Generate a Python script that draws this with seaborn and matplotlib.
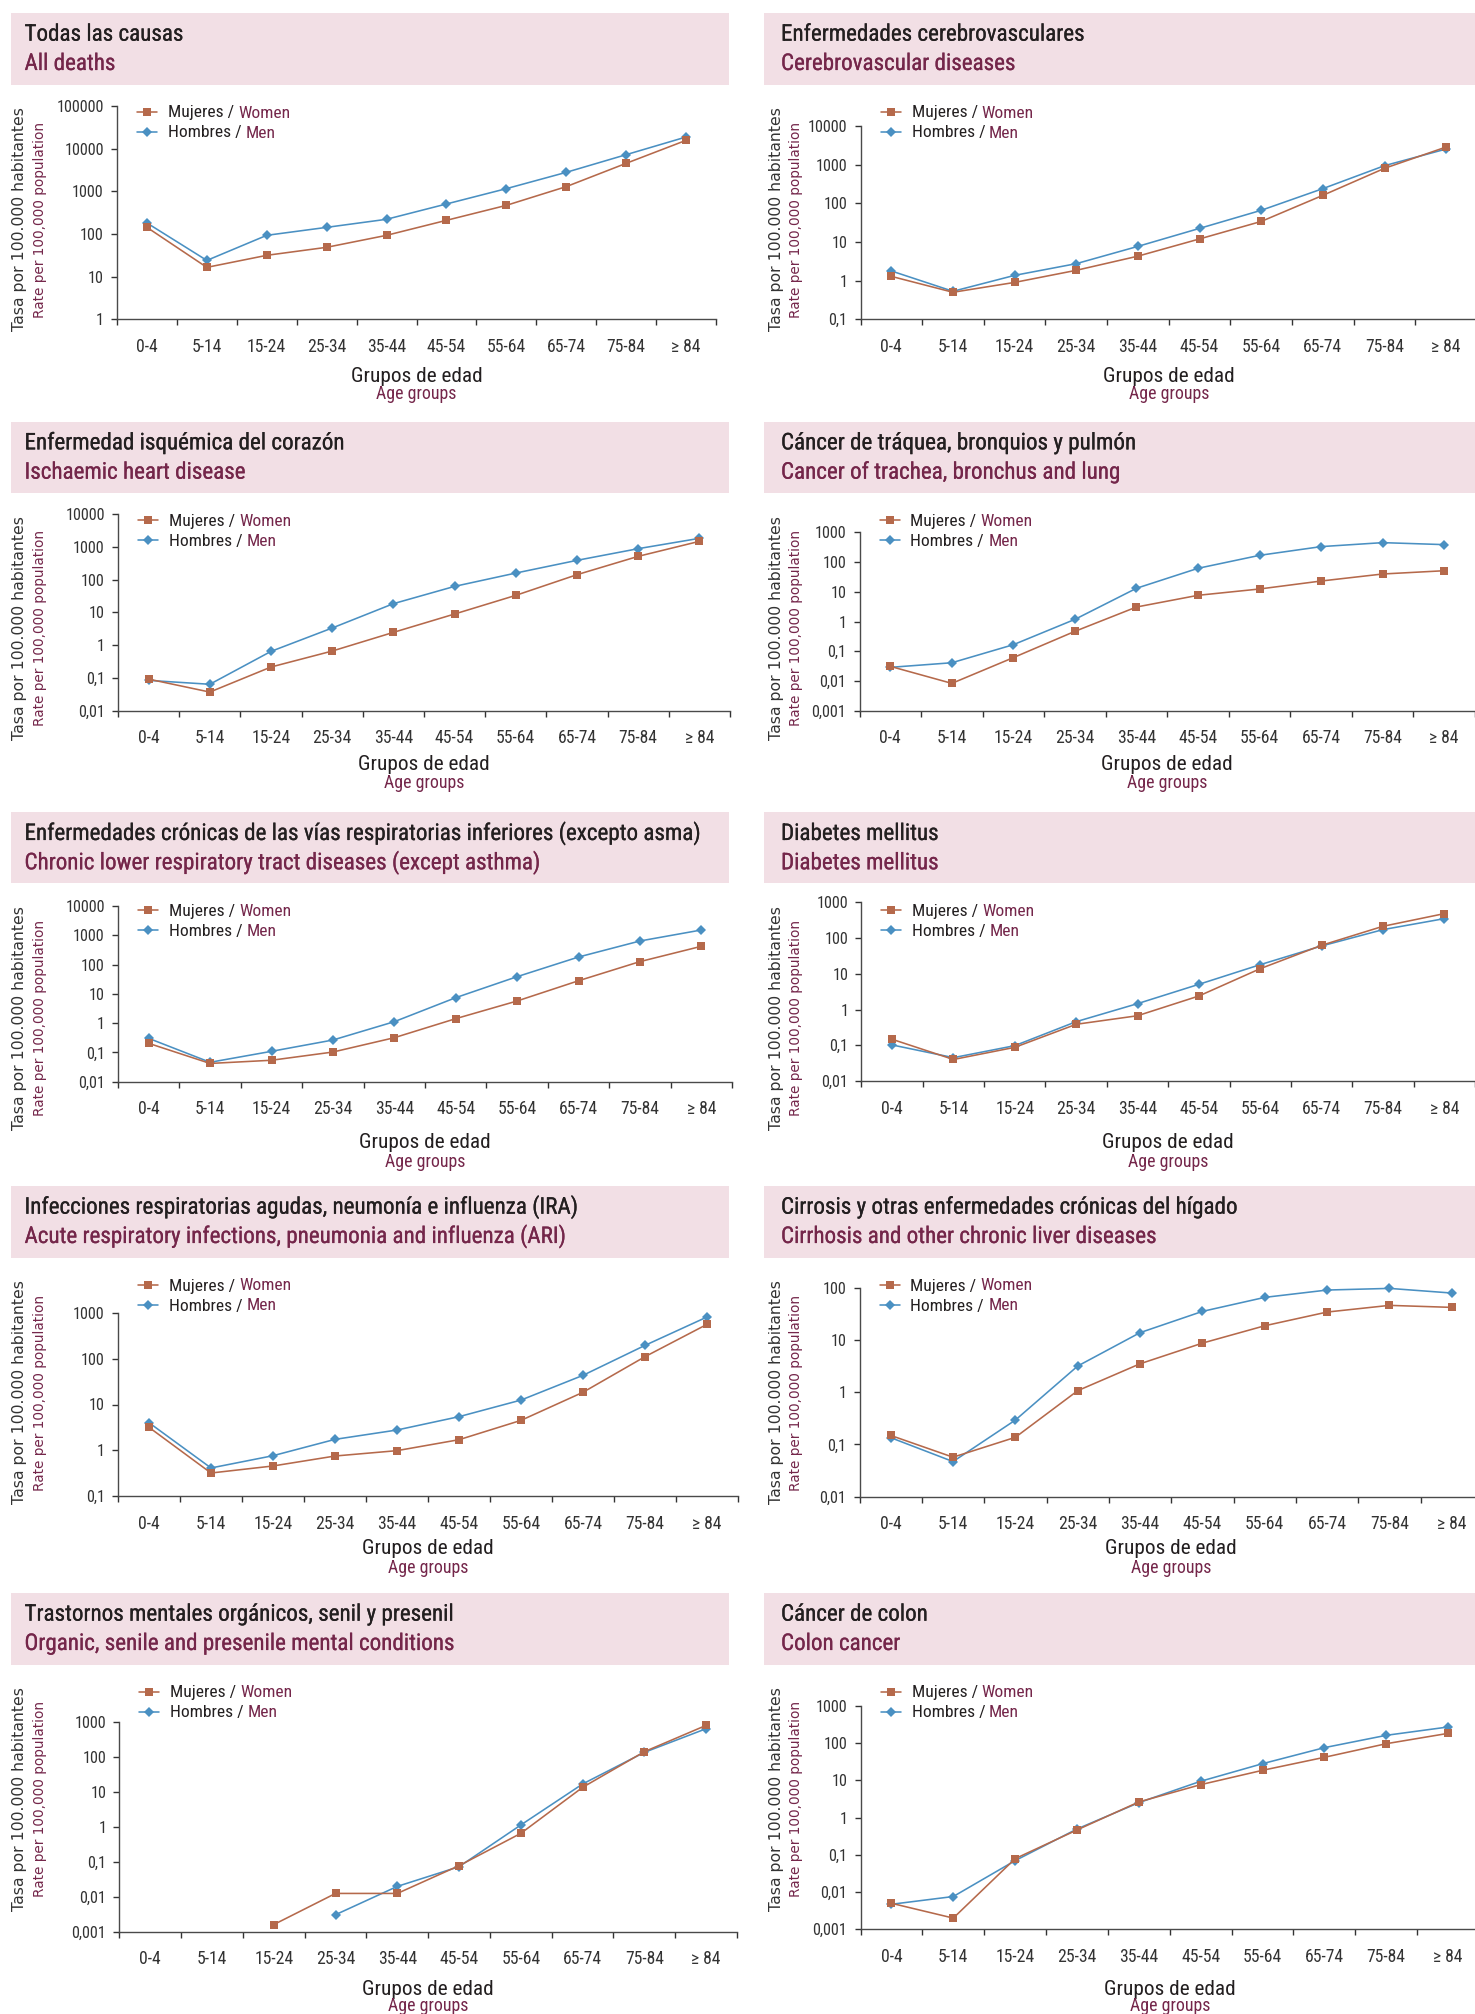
import matplotlib
matplotlib.use("Agg")
import numpy as np
import pandas as pd
import matplotlib.pyplot as plt
import seaborn as sns
from matplotlib import font_manager as fm
from matplotlib import patheffects as pe
from matplotlib.lines import Line2D
from matplotlib.patches import Rectangle
from matplotlib.ticker import FixedLocator, FixedFormatter, NullLocator

sns.set_theme(style="ticks")
plt.rcParams['font.family'] = ['DejaVu Sans']

NaN = np.nan

# ---------------- data ----------------
age_groups = ["0-4", "5-14", "15-24", "25-34", "35-44", "45-54", "55-64", "65-74", "75-84", "≥ 84"]
ytick_values = [0.001, 0.01, 0.1, 1, 10, 100, 1000, 10000, 100000]
ytick_labels = ["0,001", "0,01", "0,1", "1", "10", "100", "1000", "10000", "100000"]

titles_es = [
    "Todas las causas",
    "Enfermedades cerebrovasculares",
    "Enfermedad isquémica del corazón",
    "Cáncer de tráquea, bronquios y pulmón",
    "Enfermedades crónicas de las vías respiratorias inferiores (excepto asma)",
    "Diabetes mellitus",
    "Infecciones respiratorias agudas, neumonía e influenza (IRA)",
    "Cirrosis y otras enfermedades crónicas del hígado",
    "Trastornos mentales orgánicos, senil y presenil",
    "Cáncer de colon",
]
titles_en = [
    "All deaths",
    "Cerebrovascular diseases",
    "Ischaemic heart disease",
    "Cancer of trachea, bronchus and lung",
    "Chronic lower respiratory tract diseases (except asthma)",
    "Diabetes mellitus",
    "Acute respiratory infections, pneumonia and influenza (ARI)",
    "Cirrhosis and other chronic liver diseases",
    "Organic, senile and presenile mental conditions",
    "Colon cancer",
]

women_all = [143, 16.5, 31.6, 48.7, 93, 209, 469, 1288, 4530, 15670]
men_all = [181, 24, 93, 143, 221, 505, 1155, 2787, 7230, 18770]

women_cerebro = [1.29, 0.50, 0.90, 1.85, 4.3, 12, 34, 161, 804, 2864]
men_cerebro = [1.78, 0.53, 1.37, 2.75, 7.7, 22.5, 66, 240, 942, 2540]

women_ischaemic = [0.092, 0.037, 0.215, 0.66, 2.45, 8.9, 33, 141, 511, 1466]
men_ischaemic = [0.084, 0.064, 0.645, 3.33, 18.4, 62, 158, 386, 876, 1810]

women_lung = [0.031, 0.0083, 0.061, 0.467, 3.07, 7.6, 12.4, 23, 39.6, 51]
men_lung = [0.0287, 0.041, 0.166, 1.18, 13.1, 61.5, 168, 330, 449, 385]

women_copd = [0.204, 0.042, 0.054, 0.103, 0.318, 1.42, 5.7, 28, 126, 420]
men_copd = [0.302, 0.046, 0.109, 0.265, 1.12, 7.4, 38.6, 181, 638, 1515]

women_diabetes = [0.147, 0.040, 0.0875, 0.386, 0.67, 2.39, 13.9, 62.7, 213, 482]
men_diabetes = [0.102, 0.045, 0.0975, 0.457, 1.46, 5.07, 18, 60, 172, 349]

women_ari = [3.17, 0.318, 0.453, 0.748, 0.98, 1.70, 4.5, 18.5, 111, 565]
men_ari = [4.0, 0.41, 0.76, 1.73, 2.77, 5.42, 12.5, 43.4, 196, 818]

women_cirrhosis = [0.149, 0.057, 0.137, 1.07, 3.5, 8.7, 18.7, 34.2, 45.9, 42]
men_cirrhosis = [0.135, 0.047, 0.293, 3.17, 13.8, 35.2, 65.3, 90.2, 97, 79]

women_mental = [NaN, NaN, 0.0016, 0.0124, 0.0124, 0.077, 0.646, 13.3, 139, 786]
men_mental = [NaN, NaN, NaN, 0.00306, 0.0197, 0.072, 1.12, 16.6, 133, 631]

women_colon = [0.0050, 0.0020, 0.079, 0.467, 2.64, 7.7, 18.7, 41.8, 97, 184]
men_colon = [0.0047, 0.0076, 0.070, 0.495, 2.53, 9.5, 28.2, 76, 163, 273]

women_series = [women_all, women_cerebro, women_ischaemic, women_lung, women_copd,
                women_diabetes, women_ari, women_cirrhosis, women_mental, women_colon]
men_series = [men_all, men_cerebro, men_ischaemic, men_lung, men_copd,
              men_diabetes, men_ari, men_cirrhosis, men_mental, men_colon]

legend_es = ["Mujeres /", "Hombres /"]
legend_en = ["Women", "Men"]
xlabel_es = "Grupos de edad"
xlabel_en = "Age groups"
ylabel_es = "Tasa por 100.000 habitantes"
ylabel_en = "Rate per 100,000 population"

# ---------------- layout / style ----------------
W, H, DPI = 1475, 2014, 100
WOMEN_C = "#B5694B"
MEN_C = "#4A90C2"
MAROON = "#74264A"
HEADER_BG = "#F2DFE5"
DARK = "#231F20"
AXC = "#4a4a4a"

yranges = [(0, 5), (-1, 4), (-2, 4), (-3, 3), (-2, 4), (-2, 3), (-1, 3), (-2, 2), (-3, 3), (-3, 3)]
boxes = [
    (117, 716, 106, 319.3), (860.5, 1477, 126, 319.3),
    (118, 730, 514, 710.7), (859.5, 1475, 532.3, 710.7),
    (118, 732, 906, 1081.7), (861.4, 1475, 902.3, 1081),
    (118, 738, 1313, 1496), (859.5, 1483, 1287.7, 1496.7),
    (119.4, 737, 1721.7, 1931.7), (860.5, 1479, 1706, 1929.3),
]
row_headers = [(13, 85), (421.7, 493.3), (812.3, 883.3), (1186, 1258), (1593, 1664.7)]
row_label_cy = [219.5, 628, 1018, 1392.5, 1799]
row_grupos_base = [382.3, 770, 1147.7, 1554, 1995]
row_age_base = [399.3, 788.3, 1166.7, 1572.7, 2011]
col_header_x = [(11, 729), (764, 1475)]
col_title_x = [24.5, 781]
col_tasa_x = [20, 777]
col_rate_x = [40, 796]


# ---------------- condensed font selection ----------------
def find_condensed():
    for n in ['Roboto Condensed', 'Liberation Sans Narrow', 'DejaVu Sans Condensed',
              'Open Sans Condensed', 'Noto Sans Condensed', 'Arial Narrow']:
        try:
            return fm.findfont(fm.FontProperties(family=n), fallback_to_default=False)
        except Exception:
            pass
    pref = ['Roboto', 'DejaVu Sans', 'Liberation Sans', 'Noto Sans', 'Open Sans', 'Lato', 'Inter']
    best = None
    for fe in fm.fontManager.ttflist:
        fn = fe.fname
        cond = ('ondensed' in fn) or ('Narrow' in fn) or (fe.stretch in ('condensed', 'semi-condensed'))
        if not cond or fe.style != 'normal':
            continue
        if 'Bold' in fn or 'Light' in fn or 'Thin' in fn or 'Black' in fn:
            continue
        rank = pref.index(fe.name) if fe.name in pref else len(pref)
        if best is None or rank < best[0]:
            best = (rank, fn)
    return best[1] if best else None


COND_PATH = find_condensed()


def cf(size):
    if COND_PATH:
        return fm.FontProperties(fname=COND_PATH, size=size)
    return fm.FontProperties(family=['Roboto', 'DejaVu Sans'], size=size)


def has_glyph(ch):
    if not COND_PATH:
        return True
    try:
        from matplotlib.ft2font import FT2Font
        return FT2Font(COND_PATH).get_char_index(ord(ch)) != 0
    except Exception:
        return True


GE_OK = has_glyph("≥")


def fx(x):
    return x / W


def fy(y):
    return 1 - y / H


fig = plt.figure(figsize=(W / DPI, H / DPI), dpi=DPI)
fig.patch.set_facecolor("white")
renderer = fig.canvas.get_renderer()


def fit_size(text, target_px, max_pt):
    w, h, d = renderer.get_text_width_height_descent(text, cf(10), ismath=False)
    return min(max_pt, 10.0 * target_px / w)


S_TITLE = fit_size("Enfermedades crónicas de las vías respiratorias inferiores (excepto asma)", 690, 16.6)
S_XT = fit_size("15-24", 39, 12.9)
S_YT = fit_size("100000", 47, 12.0)
S_LEG = fit_size("Mujeres / Women", 126, 12.6)
S_GRU = fit_size("Grupos de edad", 131, 15.3)
S_AGE = fit_size("Age groups", 80, 13.2)
TITLE_FX = [pe.withStroke(linewidth=0.15, foreground=DARK)]
TITLE_FX2 = [pe.withStroke(linewidth=0.15, foreground=MAROON)]

legend_pairs = []
for i in range(10):
    row, col = divmod(i, 2)
    x0, x1, yt, yb = boxes[i]
    ht, hb = row_headers[row]
    hx0, hx1 = col_header_x[col]

    # header band
    fig.add_artist(Rectangle((fx(hx0), fy(hb)), fx(hx1) - fx(hx0), fy(ht) - fy(hb),
                             transform=fig.transFigure, facecolor=HEADER_BG,
                             edgecolor="none", zorder=0))
    fig.text(fx(col_title_x[col]), fy(ht + 27.7), titles_es[i], fontproperties=cf(S_TITLE),
             color=DARK, va="baseline", ha="left", path_effects=TITLE_FX)
    fig.text(fx(col_title_x[col]), fy(ht + 57), titles_en[i], fontproperties=cf(S_TITLE),
             color=MAROON, va="baseline", ha="left", path_effects=TITLE_FX2)

    # axes and lines
    ax = fig.add_axes([fx(x0), fy(yb), fx(x1) - fx(x0), fy(yt) - fy(yb)])
    ax.patch.set_alpha(0)
    ax.set_yscale("log")
    pos = list(range(len(age_groups)))
    for vals, color, marker, ms in [(men_series[i], MEN_C, "D", 5.0),
                                    (women_series[i], WOMEN_C, "s", 5.6)]:
        d = pd.DataFrame({"pos": pos, "rate": vals}).dropna()
        sns.lineplot(data=d, x="pos", y="rate", color=color, marker=marker,
                     markersize=ms, markeredgewidth=0, linewidth=1.15,
                     estimator=None, errorbar=None, legend=False, ax=ax,
                     clip_on=False)
    lo, hi = yranges[i]
    ax.set_ylim(10.0 ** lo, 10.0 ** hi)
    ax.set_xlim(-0.5, len(age_groups) - 0.5)
    ax.set_xlabel("")
    ax.set_ylabel("")

    yv = [v for v in ytick_values if 10.0 ** lo * 0.999 <= v <= 10.0 ** hi * 1.001]
    yl = [ytick_labels[ytick_values.index(v)] for v in yv]
    ax.yaxis.set_major_locator(FixedLocator(yv))
    ax.yaxis.set_major_formatter(FixedFormatter(yl))
    ax.yaxis.set_minor_locator(NullLocator())

    ax.set_xticks(pos)
    ax.set_xticklabels(age_groups)
    ax.set_xticks(np.arange(-0.5, len(age_groups), 1.0), minor=True)
    ax.tick_params(axis="x", which="major", length=0, pad=13.5, labelcolor="#333333")
    ax.tick_params(axis="x", which="minor", length=4.5, width=1.0, direction="out",
                   color="#333333")
    ax.tick_params(axis="y", which="major", length=4, width=1.0, direction="out",
                   pad=5.5, labelcolor="#333333", color="#333333")
    for lab in ax.get_xticklabels():
        if "≥" in lab.get_text() and not GE_OK:
            lab.set_fontproperties(fm.FontProperties(family=['DejaVu Sans'], size=S_XT * 0.85))
        else:
            lab.set_fontproperties(cf(S_XT))
    for lab in ax.get_yticklabels():
        lab.set_fontproperties(cf(S_YT))
    for s in ["top", "right"]:
        ax.spines[s].set_visible(False)
    for s in ["left", "bottom"]:
        ax.spines[s].set_color(AXC)
        ax.spines[s].set_linewidth(1.0)

    # axis titles
    cx = (x0 + x1) / 2
    fig.text(fx(cx), fy(row_grupos_base[row]), xlabel_es, fontproperties=cf(S_GRU), color=DARK,
             ha="center", va="baseline")
    fig.text(fx(cx), fy(row_age_base[row]), xlabel_en, fontproperties=cf(S_AGE), color=MAROON,
             ha="center", va="baseline")
    cy = row_label_cy[row]
    fig.text(fx(col_tasa_x[col]), fy(cy), ylabel_es, fontsize=11.3, color="#333333",
             rotation=90, ha="center", va="center", family=['DejaVu Sans'])
    fig.text(fx(col_rate_x[col]), fy(cy), ylabel_en, fontsize=9.8, color=MAROON,
             rotation=90, ha="center", va="center", family=['DejaVu Sans'])

    # legend (manual, two-colour text)
    lx0 = x0 + 20
    lx1 = lx0 + 20
    ltx = x0 + 51
    for k, (es, en, color, marker, ms) in enumerate([
            (legend_es[0], legend_en[0], WOMEN_C, "s", 5.6),
            (legend_es[1], legend_en[1], MEN_C, "D", 5.0)]):
        ly = hb + 27 + 20 * k
        fig.add_artist(Line2D([fx(lx0), fx(lx1)], [fy(ly), fy(ly)], transform=fig.transFigure,
                              color=color, linewidth=1.15))
        fig.add_artist(Line2D([fx((lx0 + lx1) / 2)], [fy(ly)], transform=fig.transFigure,
                              color=color, marker=marker, markersize=ms, markeredgewidth=0,
                              linestyle="none"))
        t1 = fig.text(fx(ltx), fy(ly + 5.5), es, fontproperties=cf(S_LEG), color=DARK,
                      ha="left", va="baseline")
        t2 = fig.text(fx(ltx), fy(ly + 5.5), en, fontproperties=cf(S_LEG), color=MAROON,
                      ha="left", va="baseline")
        legend_pairs.append((t1, t2))

fig.canvas.draw()
renderer = fig.canvas.get_renderer()
space_px = renderer.get_text_width_height_descent("a a", cf(S_LEG), ismath=False)[0] - \
    renderer.get_text_width_height_descent("aa", cf(S_LEG), ismath=False)[0]
for t1, t2 in legend_pairs:
    bb = t1.get_window_extent(renderer=renderer)
    p = t1.get_position()
    t2.set_position(((bb.x1 + space_px) / W, p[1]))

fig.savefig("out.png", dpi=DPI, facecolor="white")
